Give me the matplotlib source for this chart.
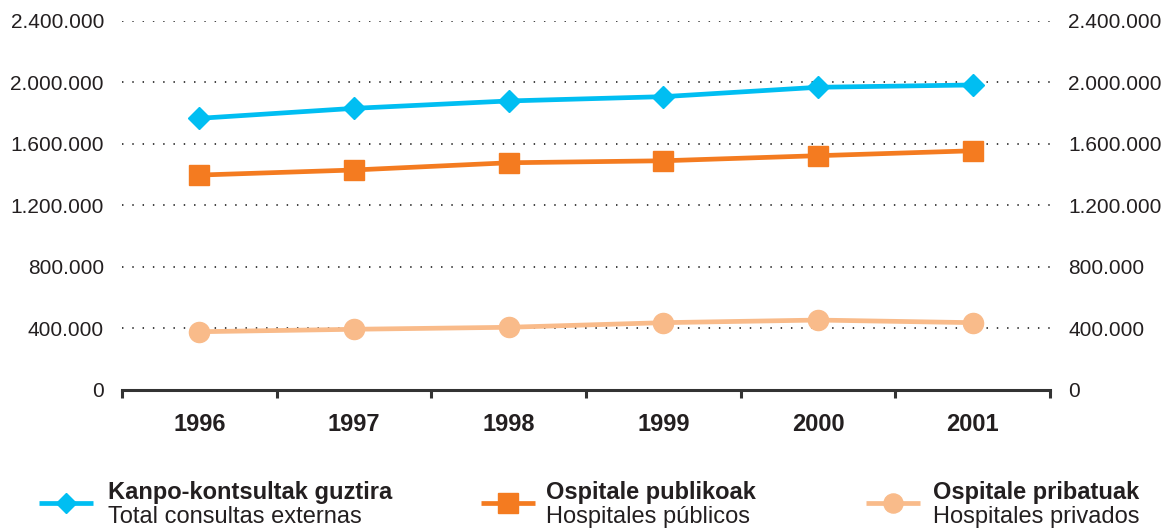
import matplotlib
matplotlib.use("Agg")
import matplotlib.pyplot as plt
from matplotlib.lines import Line2D
from matplotlib.ticker import FuncFormatter, FixedLocator

plt.rcParams['font.family'] = ['Liberation Sans', 'DejaVu Sans']

years = ["1996", "1997", "1998", "1999", "2000", "2001"]
total = [1765000, 1830000, 1878000, 1906000, 1967000, 1982000]
publicos = [1396000, 1429000, 1476000, 1489000, 1522000, 1554000]
privados = [377000, 393000, 406000, 436000, 453000, 436000]

labels_eu = ["Kanpo-kontsultak guztira", "Ospitale publikoak", "Ospitale pribatuak"]
labels_es = ["Total consultas externas", "Hospitales públicos", "Hospitales privados"]
yticks = [0, 400000, 800000, 1200000, 1600000, 2000000, 2400000]

c_blue = '#00bef2'
c_orange = '#f47b20'
c_peach = '#f9bb8a'
txt = '#231f20'

fig = plt.figure(figsize=(11.72, 5.30), dpi=100)
ax = fig.add_axes([122/1172, 1-389.7/530, (1050-122)/1172, (389.7-20.7)/530])

x = list(range(len(years)))
styles = [
    (total, c_blue, 'D', 11.0),
    (publicos, c_orange, 's', 15.0),
    (privados, c_peach, 'o', 14.5),
]
for vals, col, mk, ms in styles:
    ax.plot(x, vals, color=col, lw=3.4, marker=mk, ms=ms, mec=col, mfc=col, zorder=3,
            solid_capstyle='butt')

ax.set_xlim(-0.5, len(years) - 0.5)
ax.set_ylim(0, 2400000)

for v in yticks[1:]:
    ax.axhline(v, color='#333333', lw=1.3, ls=(0, (0.8, 4.9)), zorder=1)

for s in ['top', 'left', 'right']:
    ax.spines[s].set_visible(False)
ax.spines['bottom'].set_color('#333333')
ax.spines['bottom'].set_linewidth(2.2)

ax.set_xticks(x)
ax.set_xticklabels(years, fontsize=17, fontweight='bold', color=txt)
ax.tick_params(axis='x', which='major', length=0, pad=17)
ax.xaxis.set_minor_locator(FixedLocator([i - 0.5 for i in range(len(years) + 1)]))
ax.tick_params(axis='x', which='minor', length=6, width=2.2, color='#333333', direction='out')

fmt = FuncFormatter(lambda v, p: f"{int(v):,}".replace(",", "."))
ax.set_yticks(yticks)
ax.yaxis.set_major_formatter(fmt)
ax.tick_params(axis='y', which='both', length=0, pad=13, labelsize=15, labelcolor=txt,
               left=True, right=True, labelleft=True, labelright=True)

# legend
leg_lines = [(39, 93), (481, 535), (866, 920)]
leg_text_x = [108, 546, 933]
ly = 1 - 503/530
for (x0, x1), tx, (vals, col, mk, ms), l1, l2 in zip(leg_lines, leg_text_x, styles, labels_eu, labels_es):
    fig.add_artist(Line2D([x0/1172, x1/1172], [ly, ly], color=col, lw=3.4,
                          transform=fig.transFigure, solid_capstyle='butt'))
    fig.add_artist(Line2D([(x0 + x1)/2/1172], [ly], color=col, marker=mk, ms=ms*0.95,
                          mec=col, mfc=col, ls='none', transform=fig.transFigure))
    fig.text(tx/1172, 1 - 492/530, l1, fontsize=17, fontweight='bold', color=txt,
             va='center', ha='left')
    fig.text(tx/1172, 1 - 517/530, l2, fontsize=17, color=txt, va='center', ha='left')

fig.savefig("out.png", dpi=100)
